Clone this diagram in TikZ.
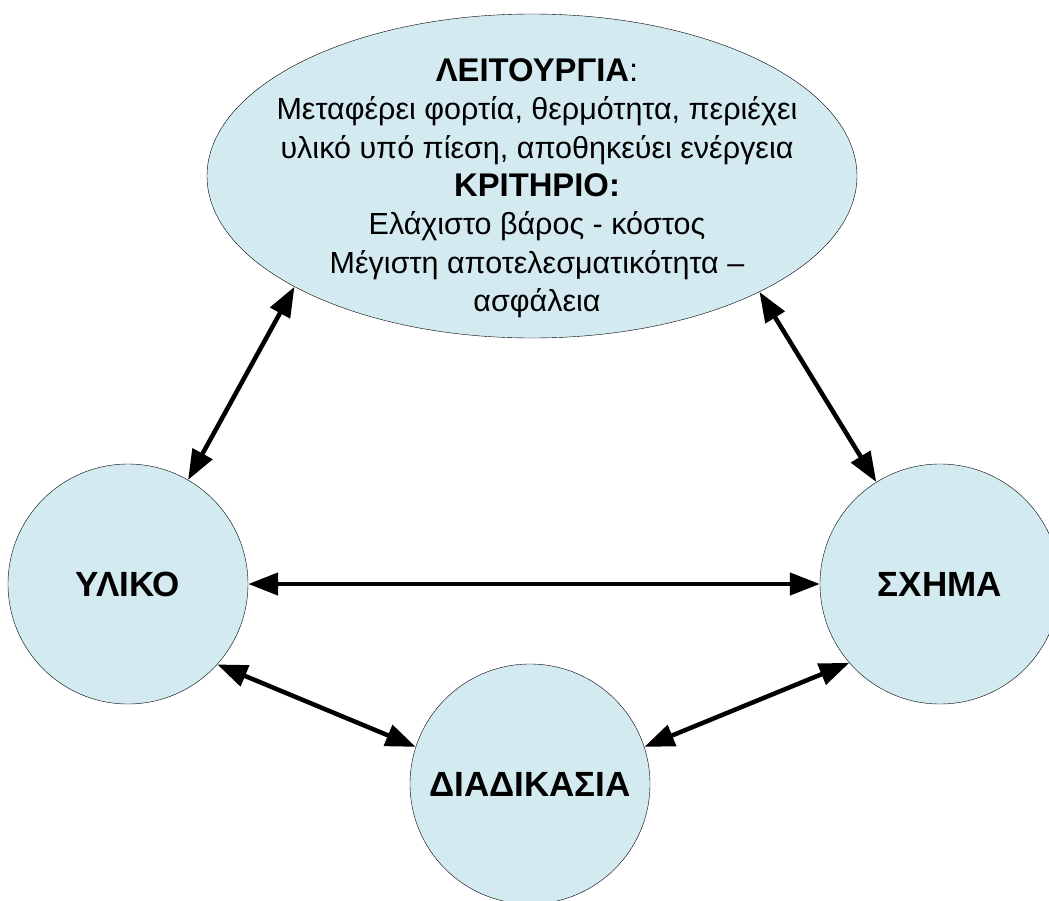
\documentclass[tikz,border=0pt]{standalone}
\usepackage{fontspec}
\setmainfont{Liberation Sans}
\usetikzlibrary{shapes.geometric,arrows.meta}
\definecolor{bubblefill}{RGB}{210,234,240}
\tikzset{
  bubble/.style={draw=black,thin,fill=bubblefill,inner sep=0pt},
  roundbox/.style={bubble,circle,minimum size=240pt,font=\fontsize{35}{40}\selectfont\bfseries},
  twoway/.style={line width=4.5pt,{Triangle[length=30pt,width=22pt]}-{Triangle[length=30pt,width=22pt]}}
}
\begin{document}
\begin{tikzpicture}[x=1pt,y=-1pt]
\useasboundingbox (0,0) rectangle (1049,900);
% Λειτουργία
\node[bubble,ellipse,minimum width=650pt,minimum height=324pt] (func) at (532,176) {};
\node[anchor=north,align=center,inner sep=0pt,font=\fontsize{30.5}{38.3}\selectfont] (functext) at (537,58.5)
  {{\fontsize{32.8}{38.3}\selectfont\textbf{ΛΕΙΤΟΥΡΓΙΑ}:}\\
   Μεταφέρει φορτία, θερμότητα, περιέχει\\
   υλικό υπό πίεση, αποθηκεύει ενέργεια\\
   {\fontsize{32.8}{38.3}\selectfont\textbf{ΚΡΙΤΗΡΙΟ:}}\\
   Ελάχιστο βάρος - κόστος\\
   Μέγιστη αποτελεσματικότητα –\\
   ασφάλεια};

% Κύκλοι
\node[roundbox] (ylik) at (128,584) {ΥΛΙΚΟ};
\node[roundbox] (sxhma) at (940,584) {ΣΧΗΜΑ};
\node[roundbox] (diad) at (530,784) {ΔΙΑΔΙΚΑΣΙΑ};

% Βέλη
\foreach \a/\b in {func.205.5/ylik.60, func.333.5/sxhma.122, ylik.0/sxhma.180,
                   ylik.318/diad.162, sxhma.221/diad.18.7}
    \draw[twoway] (\a) -- (\b);
\end{tikzpicture}
\end{document}
